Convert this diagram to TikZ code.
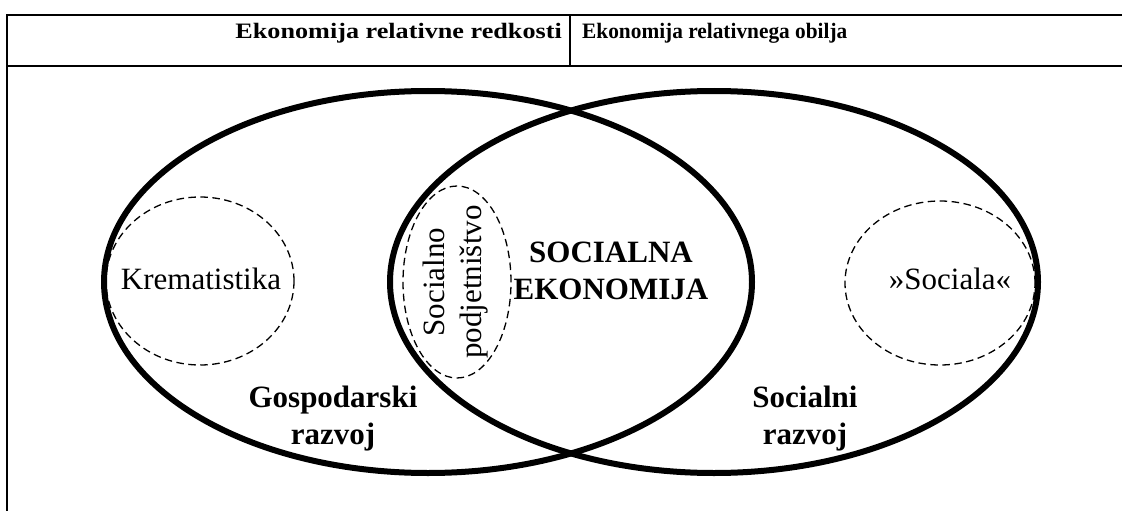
\documentclass[tikz,border=0pt]{standalone}
\usepackage{fontspec}
\setmainfont{Liberation Serif}
\usepackage{tikz}

\begin{document}
\begin{tikzpicture}[x=1pt,y=-1pt,
		krog/.style={line width=6pt},
		crtkano/.style={line width=1.3pt, dash pattern=on 7.5pt off 4.5pt},
		crta/.style={line width=1.7pt},
		napis/.style={inner sep=0pt, align=center, font=\fontsize{31}{37}\selectfont},
		napisb/.style={napis, font=\fontsize{31}{37}\selectfont\bfseries},
		glava/.style={inner sep=0pt, transform shape, font=\fontsize{22}{26}\selectfont\bfseries}]
			\useasboundingbox (0,0) rectangle (1122,511);
			% Glava tabele
			\draw [crta] (1130,15) -- (7,15) -- (7,520);
			\draw [crta] (7,66) -- (1130,66);
			\draw [crta] (570,15) -- (570,66);
			\node [glava, anchor=base east, xscale=1.19] (redkost) at (562,39) {Ekonomija relativne redkosti};
			\node [glava, anchor=base west, xscale=0.97] (obilje) at (582,39) {Ekonomija relativnega obilja};
			% Crtkane elipse
			\foreach \x/\y/\rx/\ry in {200/281/94/84, 457/282/54/96, 940/283/95/82}
			\draw [crtkano] (\x,\y) ellipse [x radius=\rx pt, y radius=\ry pt];
			% Veliki elipsi
			\foreach \x in {428,714}
			\draw [krog] (\x,282) ellipse [x radius=324pt, y radius=191pt];
			% Napisi
			\node [napis, anchor=base] (krem) at (201,289) {Krematistika};
			\node [napis, anchor=base] (sociala) at (950,289) {»Sociala«};
			\node [napis, rotate=90] (podjet) at (456,282) {Socialno\\podjetništvo};
			\node [napisb] (socek) at (611,271) {SOCIALNA\\EKONOMIJA};
			\node [napisb] (gosp) at (333,419) {Gospodarski\\razvoj};
			\node [napisb] (socraz) at (805,419) {Socialni\\razvoj};
\end{tikzpicture}
\end{document}
